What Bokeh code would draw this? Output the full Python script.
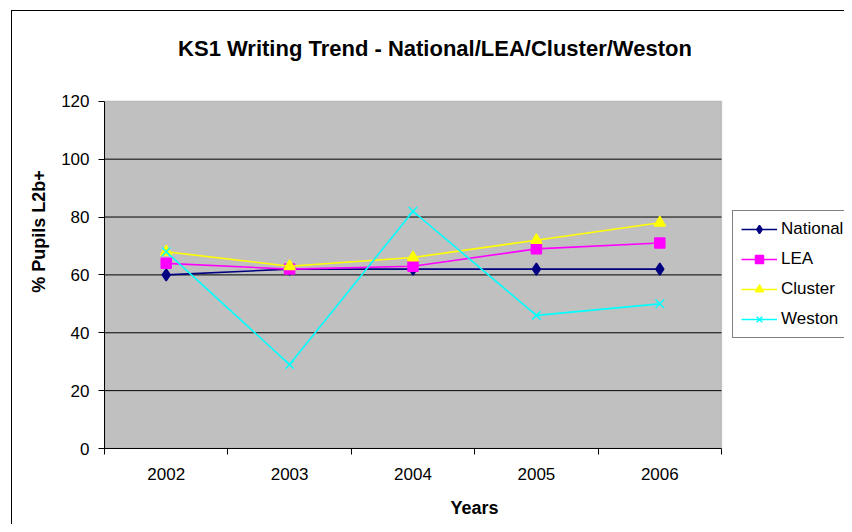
from bokeh.plotting import figure
from bokeh.models import Range1d, FixedTicker, Label, Legend, LegendItem, BoxAnnotation
from bokeh.embed import file_html
from bokeh.resources import INLINE

years = ["2002", "2003", "2004", "2005", "2006"]
national = [60, 62, 62, 62, 62]
lea = [64, 62, 63, 69, 71]
cluster = [68, 63, 66, 72, 78]
weston = [68, 29, 82, 46, 50]
y_ticks = [0, 20, 40, 60, 80, 100, 120]
grid_ticks = [20, 40, 60, 80, 100]
title_text = "KS1 Writing Trend - National/LEA/Cluster/Weston"

FONT = "Liberation Sans"
N = len(years)
xs = [i + 0.5 for i in range(N)]
Y_MAX = 120
Y_TOP = 150      # frame extends above the plot area to hold the title
X_RIGHT = 5.9968  # frame extends right of the plot area to hold the legend

p = figure(width=844, height=524, output_backend="svg", toolbar_location=None,
           x_range=Range1d(0, X_RIGHT), y_range=Range1d(0, Y_TOP),
           min_border_left=104, min_border_right=0, min_border_top=14, min_border_bottom=76)
p.background_fill_color = "white"
p.border_fill_color = "white"
p.outline_line_color = None
# outer chart-area border (left and top edges; the rest is cut off in the original)
p.stylesheets = [
    ":host { position: relative; }\n"
    ":host::after { content: ''; position: absolute; left: 11px; top: 10px; right: 0; bottom: 0;"
    " border-left: 1.5px solid #000; border-top: 1.5px solid #000; pointer-events: none; z-index: 10; }"
]

# grey plot area
plot_area = BoxAnnotation(left=0, right=N, bottom=0, top=Y_MAX,
                          fill_color="#C0C0C0", fill_alpha=1,
                          line_color="#808080", line_width=1.5, level="image")
p.add_layout(plot_area)

# gridlines limited to the plot area
p.segment(x0=[0] * len(grid_ticks), x1=[N] * len(grid_ticks), y0=grid_ticks, y1=grid_ticks,
          line_color="black", line_width=1, level="underlay")
p.xgrid.grid_line_color = None
p.ygrid.grid_line_color = None

# axes
p.xaxis.ticker = FixedTicker(ticks=xs, minor_ticks=list(range(N + 1)))
p.xaxis.bounds = (0, N)
p.xaxis.major_label_overrides = {x: y for x, y in zip(xs, years)}
p.xaxis.major_tick_line_color = None
p.xaxis.major_tick_out = 0
p.xaxis.major_tick_in = 0
p.xaxis.minor_tick_out = 6
p.xaxis.minor_tick_in = 0
p.xaxis.minor_tick_line_color = "black"
p.xaxis.axis_line_color = "black"
p.xaxis.major_label_standoff = 13
p.xaxis.axis_label = "Years"
p.xaxis.axis_label_standoff = 15

p.yaxis.ticker = FixedTicker(ticks=y_ticks)
p.yaxis.bounds = (0, Y_MAX)
p.yaxis.minor_tick_line_color = None
p.yaxis.major_tick_out = 6
p.yaxis.major_tick_in = 0
p.yaxis.axis_line_color = "black"
p.yaxis.major_tick_line_color = "black"
p.yaxis.major_label_standoff = 9
p.yaxis.axis_label = "% Pupils L2b+"
p.yaxis.axis_label_standoff = 9

for ax in (p.xaxis, p.yaxis):
    ax.major_label_text_font = FONT
    ax.major_label_text_font_size = "17px"
    ax.major_label_text_color = "black"
    ax.axis_label_text_font = FONT
    ax.axis_label_text_font_size = "18px"
    ax.axis_label_text_font_style = "bold"
    ax.axis_label_text_color = "black"

# series
series = [
    ("National", national, "#000080", "diamond", 12),
    ("LEA", lea, "#FF00FF", "square", 10),
    ("Cluster", cluster, "#FFFF00", "triangle", 11),
    ("Weston", weston, "#00FFFF", "x", 12),
]
items = []
for name, vals, color, marker, size in series:
    r1 = p.line(xs, vals, line_color=color, line_width=1.6)
    r2 = p.scatter(xs, vals, marker=marker, size=size, fill_color=color,
                   line_color=color, line_width=1.5)
    items.append(LegendItem(label=name, renderers=[r1, r2]))

legend = Legend(items=items, location=(628, 110))
legend.label_text_font = FONT
legend.label_text_font_size = "17px"
legend.label_text_color = "black"
legend.border_line_color = "black"
legend.border_line_width = 1
legend.background_fill_color = "white"
legend.background_fill_alpha = 1
legend.padding = 8
legend.spacing = 10
legend.glyph_width = 36
legend.glyph_height = 20
legend.label_height = 20
legend.label_standoff = 4
legend.margin = 0
p.add_layout(legend, "center")

title = Label(x=2.678, y=138.1, text=title_text,
              text_font=FONT, text_font_size="22px", text_font_style="bold",
              text_align="center", text_baseline="alphabetic", text_color="black")
p.add_layout(title)

open("out.html", "w").write(file_html(p, INLINE))
